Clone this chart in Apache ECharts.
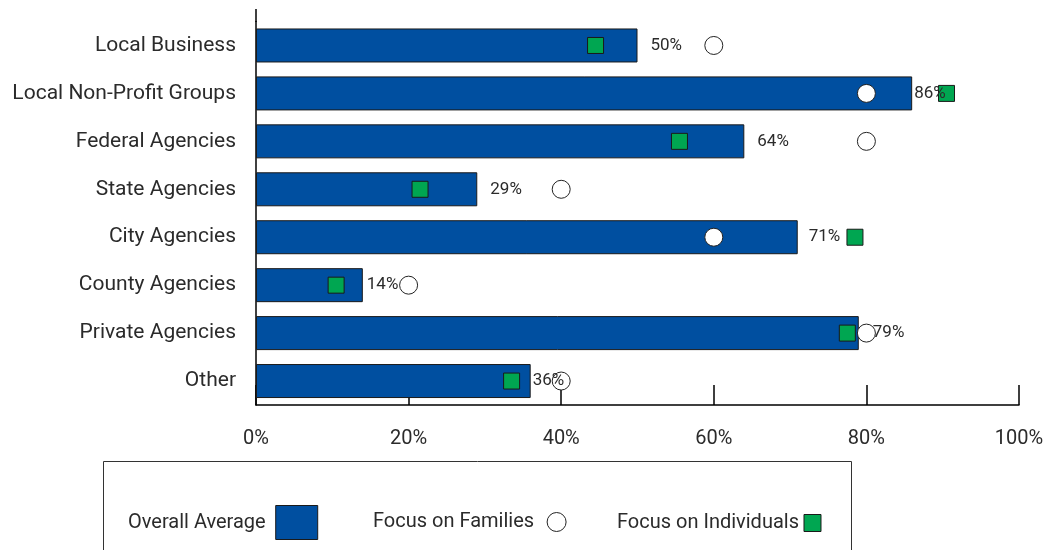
<!DOCTYPE html>
<html>
<head>
<meta charset="utf-8">
<title>Partner focus</title>
<script src="https://cdn.jsdelivr.net/npm/echarts@6/dist/echarts.min.js"></script>
<style>
  html, body { margin: 0; padding: 0; background: #fff; }
  #chart { width: 1049px; height: 550px; }
</style>
</head>
<body>
<div id="chart"></div>
<script>
// data
const categories = [
  "Local Business",
  "Local Non-Profit Groups",
  "Federal Agencies",
  "State Agencies",
  "City Agencies",
  "County Agencies",
  "Private Agencies",
  "Other"
];
const overall = [50, 86, 64, 29, 71, 14, 79, 36];
const families = [60, 80, 80, 40, 60, 20, 80, 40];
const individuals = [44.5, 90.5, 55.5, 21.5, 78.5, 10.5, 77.5, 33.5];
const xTicks = [0, 20, 40, 60, 80, 100];

// gap between bar end and its % label (differs per bar in the original)
const labelGap = [13, 2, 13, 13, 11, 4, 14, 2];

const FONT = 'Roboto, "Liberation Sans", sans-serif';
const TEXT = "#2b2b2b";
const BLUE = "#004fa0";
const GREEN = "#00a651";

var myChart = echarts.init(document.getElementById("chart"));

var option = {
  animation: false,
  textStyle: { fontFamily: FONT, color: TEXT },
  grid: { left: 256, right: 30, top: 21.5, bottom: 145 },
  xAxis: {
    type: "value",
    min: xTicks[0],
    max: xTicks[xTicks.length - 1],
    interval: xTicks[1] - xTicks[0],
    axisLine: { show: true, lineStyle: { color: "#000", width: 1.5 } },
    axisTick: { show: true, inside: true, length: 20, lineStyle: { color: "#000", width: 1.5 } },
    splitLine: { show: false },
    axisLabel: { formatter: "{value}%", fontSize: 20, color: TEXT, margin: 24 }
  },
  yAxis: {
    type: "category",
    data: categories,
    inverse: true,
    axisLine: { show: true, lineStyle: { color: "#000", width: 1.5 } },
    axisTick: { show: false },
    axisLabel: { fontSize: 21, color: TEXT, margin: 20 }
  },
  legend: [
    {
      data: [{ name: "Overall Average", icon: "rect" }],
      left: 128, top: 505, padding: 0,
      align: "right", itemWidth: 42, itemHeight: 34,
      selectedMode: false,
      itemStyle: { color: BLUE, borderColor: "#1a1a1a", borderWidth: 1 },
      textStyle: { fontSize: 20, color: TEXT, padding: [0, 5, 0, 0] }
    },
    {
      data: [{ name: "Focus on Families", icon: "circle" }],
      left: 373, top: 512, padding: 0,
      align: "right", itemWidth: 19, itemHeight: 19,
      selectedMode: false,
      itemStyle: { color: "#fff", borderColor: "#222", borderWidth: 1 },
      textStyle: { fontSize: 20, color: TEXT, lineHeight: 20, padding: [0, 8, 0, 0] }
    },
    {
      data: [{ name: "Focus on Individuals", icon: "rect" }],
      left: 617, top: 513, padding: 0,
      align: "right", itemWidth: 17, itemHeight: 17,
      selectedMode: false,
      itemStyle: { color: GREEN, borderColor: "#1a1a1a", borderWidth: 1 },
      textStyle: { fontSize: 20, color: TEXT, lineHeight: 20 }
    }
  ],
  graphic: [
    {
      // legend frame, bottom edge runs off the picture
      type: "rect",
      shape: { x: 103.5, y: 461.5, width: 748, height: 120 },
      style: { fill: "none", stroke: "#333", lineWidth: 1 },
      silent: true
    },
    {
      // y axis line reaches a little above the first band
      type: "line",
      shape: { x1: 256, y1: 9, x2: 256, y2: 22 },
      style: { stroke: "#000", lineWidth: 1.5 },
      silent: true
    }
  ],
  series: [
    {
      name: "Overall Average",
      type: "bar",
      data: overall,
      barWidth: 34,
      itemStyle: { color: BLUE, borderColor: "#1a1a1a", borderWidth: 1 },
      z: 2
    },
    {
      name: "Focus on Families",
      type: "scatter",
      data: families.map((v, i) => [v, i]),
      symbol: "circle",
      symbolSize: 18,
      itemStyle: { color: "#fff", borderColor: "#222", borderWidth: 1, opacity: 1 },
      z: 3
    },
    {
      name: "Focus on Individuals",
      type: "scatter",
      data: individuals.map((v, i) => [v, i]),
      symbol: "rect",
      symbolSize: 16,
      itemStyle: { color: GREEN, borderColor: "#1a1a1a", borderWidth: 1, opacity: 1 },
      z: 3
    },
    {
      // invisible twin of the bars that only carries the % labels on top
      name: "labels",
      type: "bar",
      barGap: "-100%",
      barWidth: 34,
      silent: true,
      data: overall.map((v, i) => ({
        value: v,
        label: { distance: labelGap[i] }
      })),
      itemStyle: { color: "transparent" },
      label: {
        show: true,
        position: "right",
        formatter: "{c}%",
        fontSize: 17,
        color: TEXT,
        fontFamily: FONT
      },
      z: 5
    }
  ]
};

option && myChart.setOption(option);
</script>
</body>
</html>
